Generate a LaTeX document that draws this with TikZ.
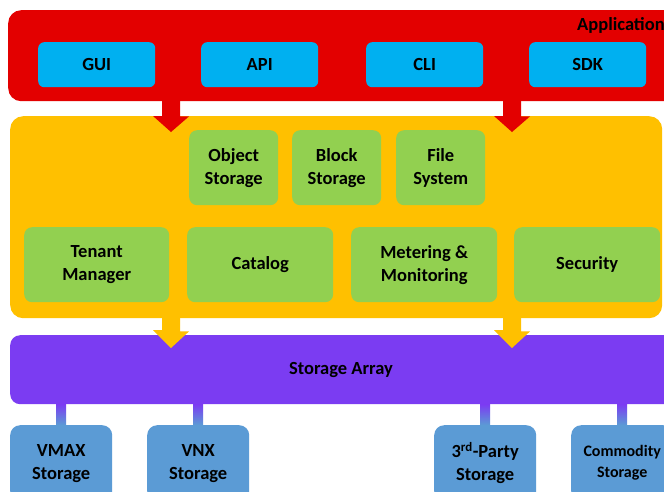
\documentclass[tikz,border=0pt]{standalone}
\usepackage{fontspec}
\setmainfont{Carlito}
\usetikzlibrary{calc}
\definecolor{appred}{HTML}{E30000}
\definecolor{modblue}{HTML}{00B0F0}
\definecolor{svcgold}{HTML}{FFC000}
\definecolor{svcgreen}{HTML}{92D050}
\definecolor{arrviolet}{HTML}{7B3CF2}
\definecolor{stblue}{HTML}{5B9BD5}
\tikzset{
  layer/.style={anchor=north west, inner sep=0pt, rounded corners=13pt},
  lbl/.style={font=\fontsize{18.5}{23}\selectfont\bfseries},
  box/.style={anchor=north west, inner sep=0pt, align=center, lbl},
  client/.style={box, fill=modblue, minimum width=117pt, minimum height=45pt, rounded corners=6pt},
  service/.style={box, fill=svcgreen, rounded corners=8pt},
  backend/.style={box, fill=stblue, minimum width=102pt, minimum height=76pt, rounded corners=10pt},
  link/.style={top color=arrviolet, bottom color=stblue, draw=none},
}
\begin{document}
\begin{tikzpicture}[x=1pt, y=-1pt]
\clip (0,0) rectangle (664,491);
\fill[white] (0,0) rectangle (664,491);

% layers
\node[layer, fill=appred, minimum width=670pt, minimum height=91pt] (app) at (8,10) {};
\node[layer, fill=svcgold, minimum width=652pt, minimum height=202pt] (mid) at (10,116) {};
\node[layer, fill=arrviolet, minimum width=670pt, minimum height=69pt, rounded corners=10pt] (sa) at (10,335) {};
\node[lbl, anchor=west, inner sep=0pt] (apptitle) at (577,25) {Application};
\node[lbl] (satitle) at (341,370) {Storage Array};

% client interfaces
\node[client] (gui) at (38,42) {GUI};
\node[client] (api) at (201,42) {API};
\node[client] (cli) at (366,42) {CLI};
\node[client] (sdk) at (529,42) {SDK};

% services
\node[service, minimum width=89pt, minimum height=75pt] (obj) at (189,130) {Object\\Storage};
\node[service, minimum width=89pt, minimum height=75pt] (blk) at (292,130) {Block\\Storage};
\node[service, minimum width=89pt, minimum height=75pt] (fs) at (396,130) {File\\System};
\node[service, minimum width=145pt, minimum height=75pt] (ten) at (24,227) {Tenant\\Manager};
\node[service, minimum width=146pt, minimum height=75pt] (cat) at (187,227) {Catalog};
\node[service, minimum width=146pt, minimum height=75pt] (met) at (351,227) {Metering \&\\Monitoring};
\node[service, minimum width=146pt, minimum height=75pt] (sec) at (514,227) {Security};

% storage back ends
\node[backend] (vmax) at (10,425) {VMAX\\Storage};
\node[backend] (vnx) at (147,425) {VNX\\Storage};
\node[backend] (third) at (434,425) {3\textsuperscript{rd}-Party\\Storage};
\node[backend, font=\fontsize{16}{21}\selectfont\bfseries] (comm) at (571,425) {Commodity\\Storage};

% block arrows between layers
\coordinate (ax1) at (171,0);
\coordinate (ax2) at (512,0);
\foreach \c in {ax1,ax2}{
  \fill[appred] ($(\c |- app.south)+(-9,-1)$) -- ++(18,0) -- ++(0,16) -- ++(9,0)
    -- ($(\c |- mid.north)+(0,16)$) -- ++(-18,-16) -- ++(9,0) -- cycle;
  \fill[svcgold] ($(\c |- mid.south)+(-9,-1)$) -- ++(18,0) -- ++(0,14) -- ++(9,0)
    -- ($(\c |- sa.north)+(0,13)$) -- ++(-18,-18) -- ++(9,0) -- cycle;
}

% links from the storage array to the back ends
\foreach \b in {vmax,vnx,third,comm}{
  \shade[link] ($(\b.north |- sa.south)+(-5,0)$) rectangle ($(\b.north)+(5,0)$);
}
\end{tikzpicture}
\end{document}
